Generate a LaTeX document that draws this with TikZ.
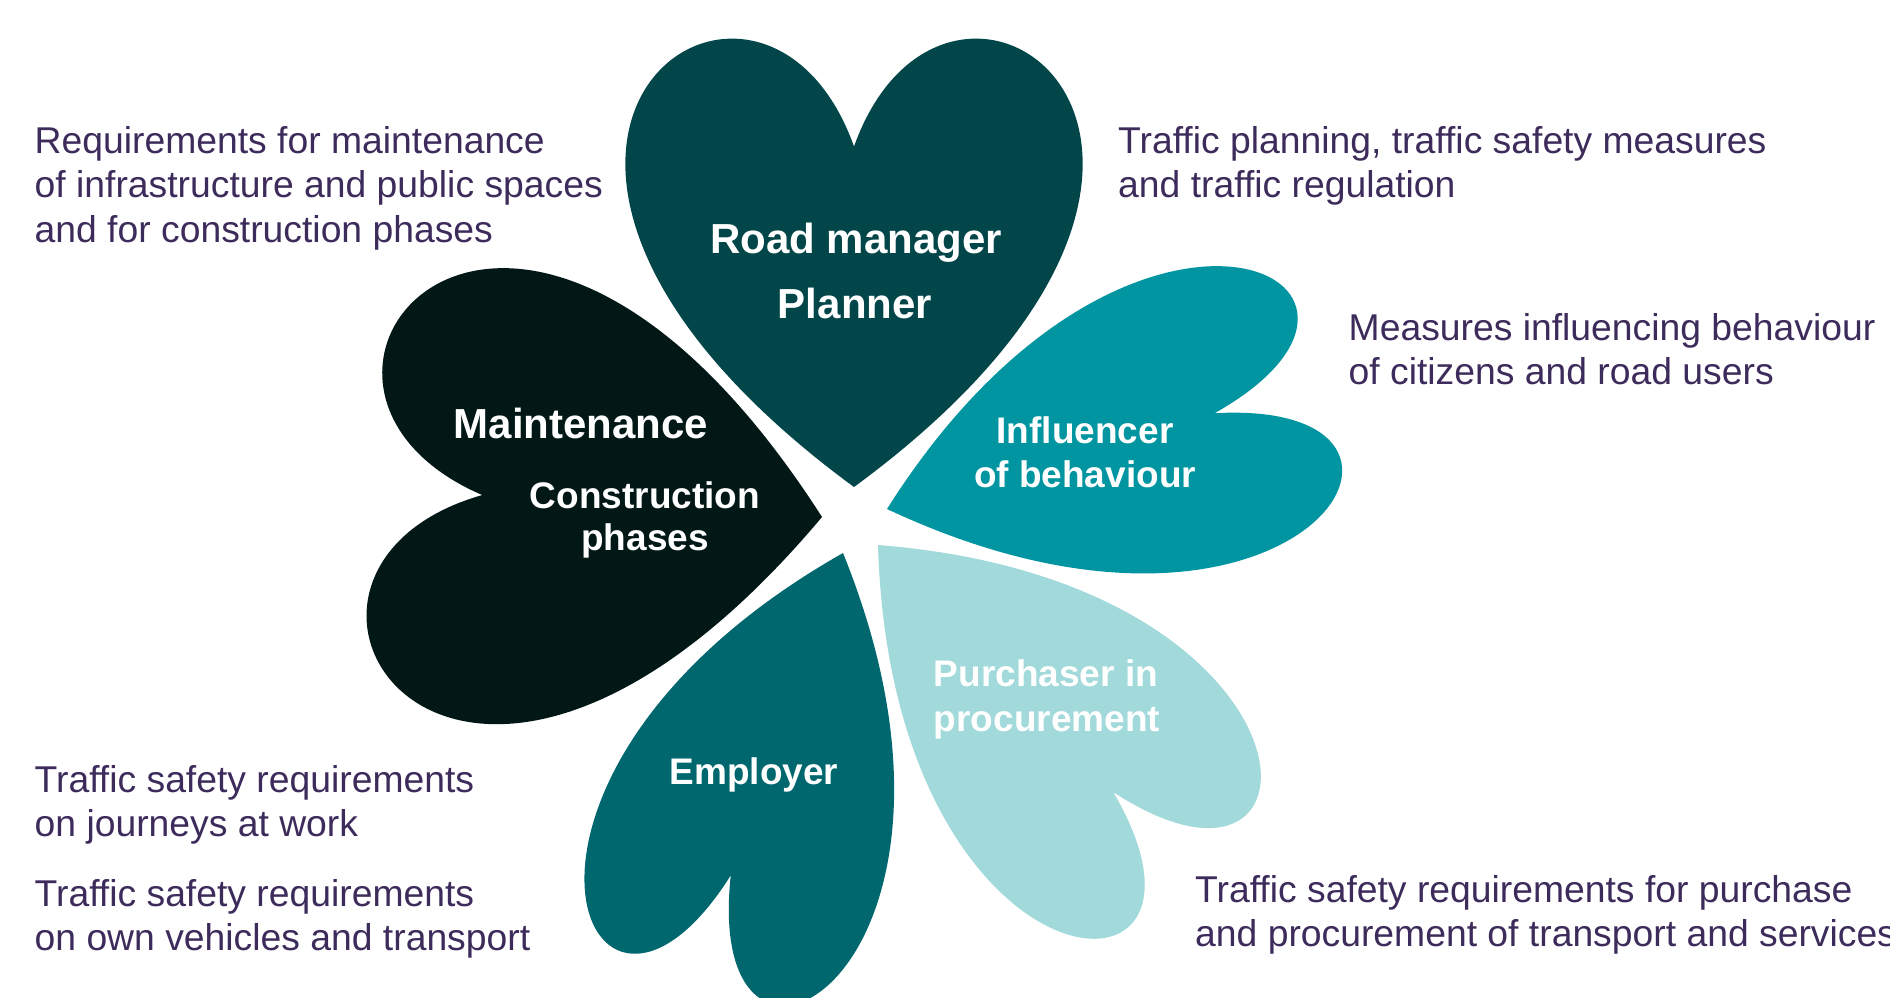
\documentclass[tikz,border=0pt]{standalone}
\usepackage{fontspec}
\setmainfont{Liberation Sans}
\definecolor{hcA}{HTML}{024649}
\definecolor{hcB}{HTML}{021817}
\definecolor{hcC}{HTML}{0095A0}
\definecolor{hcD}{HTML}{00676E}
\definecolor{hcE}{HTML}{A2D9DA}
\definecolor{txt}{HTML}{3D2C5B}
\newcommand{\heartfill}[5]{%
  \begin{scope}[shift={#1},rotate=#2]
    \fill[#5] (0,0) .. controls ({-1.020833*#3},{0.75*#4}) and ({-0.208333*#3},{1.333333*#4}) .. (0,{0.75*#4})
      .. controls ({0.208333*#3},{1.333333*#4}) and ({1.020833*#3},{0.75*#4}) .. (0,0) -- cycle;
  \end{scope}}
\begin{document}
\begin{tikzpicture}[x=1pt,y=1pt,
  bodytext/.style={font=\fontsize{37.3}{44.6}\selectfont, text=txt, inner sep=0pt, anchor=base west},
  biglabel/.style={font=\bfseries\fontsize{42}{48}\selectfont, text=white, inner sep=0pt, anchor=base},
  smalllabel/.style={font=\bfseries\fontsize{37}{44}\selectfont, text=white, inner sep=0pt, anchor=base}]
\useasboundingbox (0,0) rectangle (1890,-997);
\clip (0,0) rectangle (1890,-997);
% hearts
\heartfill{(854,-487)}{0}{454}{454}{hcA}
\heartfill{(822,-517)}{86.3}{453}{454}{hcB}
\heartfill{(887,-509)}{-73.7}{295}{455}{hcC}
\heartfill{(843,-553)}{160.8}{293}{455}{hcD}
\heartfill{(878,-545)}{-136.4}{300}{455}{hcE}
% heart labels
\node[biglabel] (rm) at (856,-253) {Road manager};
\node[biglabel] (pl) at (855,-318) {Planner};
\node[biglabel] (mt) at (581,-438) {Maintenance};
\node[smalllabel] (cs) at (645,-508) {Construction};
\node[smalllabel] (ph) at (645,-550) {phases};
\node[smalllabel] (inf) at (1085,-443) {Influencer};
\node[smalllabel] (ob) at (1085,-487) {of behaviour};
\node[smalllabel] (em) at (754,-784) {Employer};
\node[smalllabel] (pu) at (1046,-686) {Purchaser in};
\node[smalllabel] (pr) at (1047,-731) {procurement};
% side texts
\node[bodytext] (tla) at (34.5,-153.2) {Requirements for maintenance};
\node[bodytext] (tlb) at (34.5,-197.7) {of infrastructure and public spaces};
\node[bodytext] (tlc) at (34.5,-242.2) {and for construction phases};
\node[bodytext] (tra) at (1118,-153.2) {Traffic planning, traffic safety measures};
\node[bodytext] (trb) at (1118,-197.7) {and traffic regulation};
\node[bodytext] (mra) at (1348.5,-340.2) {Measures influencing behaviour};
\node[bodytext] (mrb) at (1348.5,-384.7) {of citizens and road users};
\node[bodytext] (bla) at (34.5,-792.2) {Traffic safety requirements};
\node[bodytext] (blb) at (34.5,-836.7) {on journeys at work};
\node[bodytext] (blc) at (34.5,-906.2) {Traffic safety requirements};
\node[bodytext] (bld) at (34.5,-950.7) {on own vehicles and transport};
\node[bodytext] (bra) at (1195,-902.2) {Traffic safety requirements for purchase};
\node[bodytext] (brb) at (1195,-946.7) {and procurement of transport and services};
\end{tikzpicture}
\end{document}
